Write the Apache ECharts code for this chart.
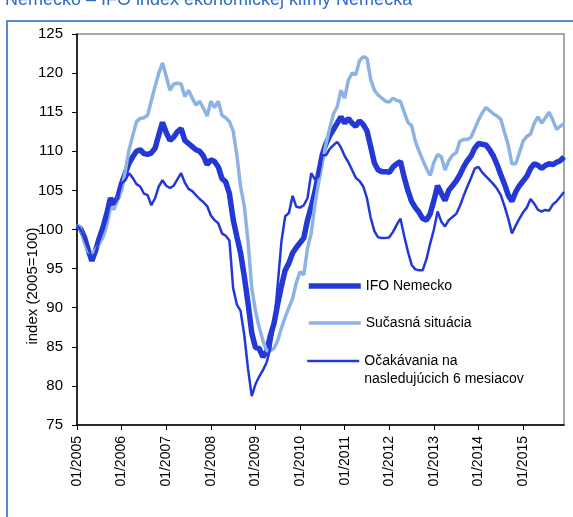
<!DOCTYPE html>
<html>
<head>
<meta charset="utf-8">
<script src="https://cdn.jsdelivr.net/npm/echarts@6/dist/echarts.min.js"></script>
<style>
  html, body { margin: 0; padding: 0; background: #fff; }
  #chart { width: 573px; height: 517px; }
</style>
</head>
<body>
<div id="chart"></div>
<script>
// roky na osi x (mesacne hodnoty 01/2005 - 12/2015)
const years = [2005, 2006, 2007, 2008, 2009, 2010, 2011, 2012, 2013, 2014, 2015]
const yTicks = { min: 75, max: 125, step: 5 }

// IFO index podnikatelskej klimy (2005=100)
const ifo = [
  100.4, 100.1, 99.0, 97.4, 96.0, 97.3, 98.9, 100.3, 102.0, 104.0, 103.2, 104.2,
  105.9, 107.2, 108.5, 109.3, 110.0, 110.2, 109.7, 109.6, 109.8, 110.4, 112.1, 113.7,
  112.4, 111.4, 111.8, 112.5, 112.9, 111.4, 111.0, 110.6, 110.2, 110.0, 109.4, 108.3,
  108.9, 108.7, 108.0, 106.5, 106.1, 104.6, 101.3, 99.1, 97.0, 94.0, 90.6, 86.8,
  84.9, 84.8, 83.7, 84.4, 86.4, 88.0, 90.5, 92.8, 94.8, 95.7, 97.0, 97.7,
  98.3, 98.9, 101.2, 102.9, 104.8, 107.2, 109.6, 111.0, 112.0, 112.8, 113.6, 114.4,
  113.6, 114.2, 113.6, 113.2, 113.9, 113.4, 112.6, 110.6, 108.5, 107.6, 107.4, 107.4,
  107.3, 108.0, 108.4, 108.7, 106.7, 105.0, 103.6, 102.8, 102.2, 101.4, 101.2, 102.0,
  103.7, 105.6, 104.6, 103.7, 105.0, 105.6, 106.2, 107.0, 108.0, 108.8, 109.4, 110.4,
  111.0, 110.9, 110.8, 110.2, 109.4, 108.3, 107.0, 105.8, 104.4, 103.6, 104.8, 105.6,
  106.2, 106.8, 107.8, 108.4, 108.2, 107.8, 108.2, 108.4, 108.3, 108.6, 108.8, 109.3
]

// sucasna situacia
const situacia = [
  100.6, 100.1, 98.3, 97.2, 96.8, 97.4, 98.2, 99.0, 100.5, 102.8, 102.6, 104.0,
  105.0, 107.5, 110.2, 112.0, 113.8, 114.2, 114.3, 114.6, 116.5, 118.3, 120.0, 121.3,
  119.6, 117.8, 118.6, 118.7, 118.6, 117.0, 117.8, 116.8, 115.9, 116.4, 115.5, 114.5,
  116.4, 115.6, 116.4, 114.6, 114.3, 113.8, 112.6, 109.5, 105.5, 103.0, 98.5, 92.5,
  89.6, 87.5, 85.8, 84.5, 84.5, 84.8, 85.8, 87.4, 88.8, 90.0, 91.2, 93.2,
  94.6, 94.2, 97.6, 99.5, 103.2, 106.0, 108.5, 111.0, 113.0, 114.8, 115.7, 117.8,
  116.8, 119.1, 120.0, 119.8, 121.6, 122.1, 121.9, 119.2, 117.8, 117.2, 116.8, 116.4,
  116.3, 116.8, 116.5, 116.4, 115.0, 113.7, 113.3, 111.3, 110.0, 108.9, 107.8, 106.9,
  108.6, 109.6, 109.3, 107.6, 108.8, 109.5, 109.8, 111.3, 111.5, 111.5, 111.8, 112.9,
  114.0, 114.9, 115.6, 115.2, 114.8, 114.5, 114.1, 112.4, 110.8, 108.4, 108.4, 109.8,
  111.3, 111.9, 112.2, 113.6, 114.4, 113.6, 114.3, 115.0, 114.0, 112.8, 113.2, 113.5
]

// ocakavania na nasledujucich 6 mesiacov
const ocakavania = [
  100.5, 100.0, 98.8, 97.6, 96.4, 97.0, 98.6, 99.8, 101.4, 103.6, 103.2, 104.0,
  105.9, 106.3, 107.2, 106.6, 105.8, 105.5, 104.6, 104.4, 103.1, 104.0, 105.5, 106.3,
  105.6, 105.3, 105.6, 106.4, 107.2, 106.0, 105.2, 104.9, 104.4, 103.9, 103.5, 103.0,
  101.8, 101.2, 100.8, 99.5, 99.2, 98.6, 92.5, 90.4, 89.6, 86.5, 82.2, 78.7,
  80.2, 81.2, 82.0, 83.0, 84.8, 87.8, 93.0, 98.5, 101.7, 102.1, 104.3, 102.9,
  102.8, 103.1, 104.0, 107.2, 106.4, 106.8, 109.5, 109.5, 110.3, 110.8, 111.2, 110.5,
  109.4, 108.6, 107.6, 106.6, 106.2, 105.5, 104.0, 101.5, 99.8, 99.0, 98.9, 98.9,
  99.0, 99.7, 100.6, 101.4, 99.2, 97.2, 95.5, 94.9, 94.8, 94.8, 96.2, 98.2,
  100.0, 102.3, 101.0, 100.4, 101.2, 101.6, 102.0, 103.0, 104.3, 105.5, 106.6, 107.8,
  108.0, 107.3, 106.8, 106.3, 105.8, 105.2, 104.4, 103.0, 101.4, 99.5, 100.5, 101.4,
  102.2, 102.8, 103.9, 103.3, 102.5, 102.3, 102.5, 102.4, 103.2, 103.6, 104.2, 104.8
]

const names = ['IFO Nemecko', 'Sučasná situácia', 'Očakávania na\nnasledujúcich 6 mesiacov']

let months = []
years.forEach(y => {
  for (let m = 1; m <= 12; m++) {
    months.push((m < 10 ? '0' + m : '' + m) + '/' + y)
  }
})

const dark = '#2438d6'
const light = '#8db3e2'
const font = '"Liberation Sans", Arial, sans-serif'
const widths = [5.5, 3.5, 2.5]
const isJan = (i) => i % 12 === 0

const legendBase = {
  orient: 'vertical',
  left: 306,
  padding: 0,
  itemWidth: 52,
  itemHeight: 14,
  itemGap: 19,
  itemStyle: { opacity: 0 },
  textStyle: { color: '#000', fontSize: 14, fontFamily: font, lineHeight: 18 }
}

var option = {
  animation: false,
  backgroundColor: '#fff',
  title: {
    text: 'Nemecko – IFO index ekonomickej klímy Nemecka',
    left: 0,
    top: -14,
    textStyle: { color: '#2f6bc8', fontSize: 18, fontWeight: 'normal', fontFamily: font }
  },
  grid: {
    show: true,
    left: 77,
    top: 34,
    right: 9,
    bottom: 92,
    borderColor: '#8a8a8a',
    borderWidth: 1.5
  },
  legend: [
    Object.assign({}, legendBase, {
      top: 277,
      data: [
        { name: names[0], lineStyle: { width: widths[0] } },
        { name: names[1], lineStyle: { width: widths[1] } }
      ]
    }),
    // posledna polozka: ikona pri prvom riadku textu
    Object.assign({}, legendBase, {
      top: 334,
      data: [{ name: names[2], lineStyle: { width: widths[2] } }],
      formatter: (n) => '\n' + n
    })
  ],
  xAxis: {
    type: 'category',
    data: months,
    boundaryGap: false,
    axisLine: { lineStyle: { color: '#000', width: 1.5 } },
    axisTick: { interval: isJan, length: 5, lineStyle: { color: '#000' } },
    axisLabel: {
      interval: isJan,
      rotate: 90,
      margin: 11,
      color: '#000',
      fontSize: 14,
      fontFamily: font
    },
    splitLine: { show: false }
  },
  yAxis: {
    type: 'value',
    min: yTicks.min,
    max: yTicks.max,
    interval: yTicks.step,
    axisLine: { show: true, lineStyle: { color: '#000', width: 1.5 } },
    axisTick: { show: true, length: 5, lineStyle: { color: '#000' } },
    axisLabel: { color: '#000', fontSize: 15, margin: 14, fontFamily: font },
    splitLine: { show: false }
  },
  graphic: [
    {
      type: 'polyline',
      shape: { points: [[7, 517], [7, 21], [573, 21]] },
      style: { stroke: '#5b8ad0', lineWidth: 2, fill: null },
      silent: true
    },
    {
      type: 'text',
      x: 33,
      y: 286,
      rotation: Math.PI / 2,
      style: {
        text: 'index (2005=100)',
        fill: '#000',
        font: '15px ' + font,
        align: 'center',
        verticalAlign: 'middle'
      }
    }
  ],
  series: [
    {
      name: names[0],
      type: 'line',
      data: ifo,
      symbol: 'none',
      lineStyle: { color: dark, width: widths[0] },
      itemStyle: { color: dark }
    },
    {
      name: names[1],
      type: 'line',
      data: situacia,
      symbol: 'none',
      lineStyle: { color: light, width: widths[1] },
      itemStyle: { color: light }
    },
    {
      name: names[2],
      type: 'line',
      data: ocakavania,
      symbol: 'none',
      lineStyle: { color: dark, width: widths[2] },
      itemStyle: { color: dark }
    }
  ]
}

let myChart = echarts.init(document.getElementById('chart'))
myChart.setOption(option)
</script>
</body>
</html>
